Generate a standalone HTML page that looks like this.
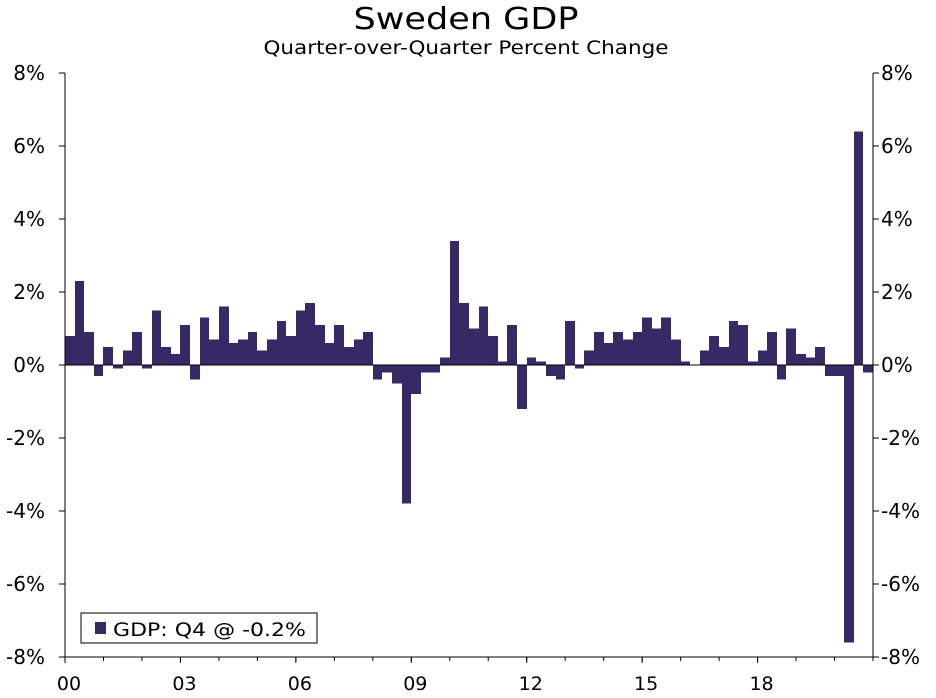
<!DOCTYPE html>
<html><head><meta charset="utf-8"><style>
body{margin:0;background:#fff;}
svg text{font-family:"DejaVu Sans","Liberation Sans",sans-serif;fill:#000;}
</style></head><body>
<svg id="chart" width="936" height="693" xmlns="http://www.w3.org/2000/svg">
<text x="466" y="29" font-size="30" text-anchor="middle" textLength="225" lengthAdjust="spacingAndGlyphs">Sweden GDP</text>
<text x="466" y="54" font-size="19" text-anchor="middle" textLength="405" lengthAdjust="spacingAndGlyphs">Quarter-over-Quarter Percent Change</text>
<g id="bars" shape-rendering="crispEdges"></g>
<g id="axes"></g>
<g>
<rect x="81" y="613" width="236" height="30" fill="#fff" stroke="#000" stroke-width="1"/>
<rect x="95" y="622" width="11" height="12" fill="#352a66"/>
<text x="113" y="636" font-size="19" textLength="193" lengthAdjust="spacingAndGlyphs">GDP: Q4 @ -0.2%</text>
</g>
</svg>
<script>
const categories = [];
for (let y = 2000; y <= 2020; y++) for (let q = 1; q <= 4; q++) categories.push(y + 'Q' + q);
const gdpValues = [
0.8,2.3,0.9,-0.3, 0.5,-0.1,0.4,0.9, -0.1,1.5,0.5,0.3, 1.1,-0.4,1.3,0.7,
1.6,0.6,0.7,0.9, 0.4,0.7,1.2,0.8, 1.5,1.7,1.1,0.6, 1.1,0.5,0.7,0.9,
-0.4,-0.2,-0.5,-3.8, -0.8,-0.2,-0.2,0.2, 3.4,1.7,1.0,1.6, 0.8,0.1,1.1,-1.2,
0.2,0.1,-0.3,-0.4, 1.2,-0.1,0.4,0.9, 0.6,0.9,0.7,0.9, 1.3,1.0,1.3,0.7,
0.1,0.0,0.4,0.8, 0.5,1.2,1.1,0.1, 0.4,0.9,-0.4,1.0, 0.3,0.2,0.5,-0.3,
-0.3,-7.6,6.4,-0.2];
const yTicks = [8,6,4,2,0,-2,-4,-6,-8];
const xTickLabels = ['00','03','06','09','12','15','18'];
const xTickYears = [2000,2003,2006,2009,2012,2015,2018];

const NS = 'http://www.w3.org/2000/svg';
const L = 65, R = 873, T = 73, B = 657;
const yMin = -8, yMax = 8;
const n = categories.length;
const bw = (R - L) / n;
const yScale = v => T + (yMax - v) / (yMax - yMin) * (B - T);
const xScale = i => L + i * bw;
function mk(tag, attrs, parent){const e=document.createElementNS(NS,tag);for(const k in attrs)e.setAttribute(k,attrs[k]);parent.appendChild(e);return e;}
const bars = document.getElementById('bars');
const axes = document.getElementById('axes');
gdpValues.forEach((v,i)=>{
  const y0 = yScale(0), y1 = yScale(v);
  const x0 = Math.round(xScale(i)), x1 = Math.round(xScale(i+1));
  const r = mk('rect',{x:x0,y:Math.min(y0,y1),width:x1-x0,height:Math.max(Math.abs(y1-y0),0.5),fill:'#352a66'},bars);
  
  
});
let z = mk('line',{x1:L,x2:R,y1:yScale(0),y2:yScale(0),stroke:'#000','stroke-width':1},axes);


let fr = mk('path',{d:`M${L},${T}V${B}H${R}V${T}`,fill:'none',stroke:'#000','stroke-width':1},axes);


yTicks.forEach(t=>{
  const y = yScale(t);
  mk('line',{x1:L-6,x2:L,y1:y,y2:y,stroke:'#000'},axes);
  mk('line',{x1:R,x2:R+6,y1:y,y2:y,stroke:'#000'},axes);
  const a = mk('text',{x:L-20,y:y+7,'font-size':20,'text-anchor':'end'},axes);
  a.textContent = t + '%';
  
  
  const b = mk('text',{x:R+8,y:y+7,'font-size':20},axes);
  b.textContent = t + '%';
  
  
});
xTickYears.forEach((yr,k)=>{
  const x = xScale((yr-2000)*4);
  mk('line',{x1:x,x2:x,y1:B,y2:B+6,stroke:'#000'},axes);
  const t = mk('text',{x:x+4,y:B+33,'font-size':19,'text-anchor':'middle'},axes);
  t.textContent = xTickLabels[k];
  
  
});
for(let yr=2000; yr<=2021; yr++){
  const x = xScale((yr-2000)*4);
  mk('line',{x1:x,x2:x,y1:B,y2:B+4,stroke:'#000'},axes);
}
</script>
</body></html>
